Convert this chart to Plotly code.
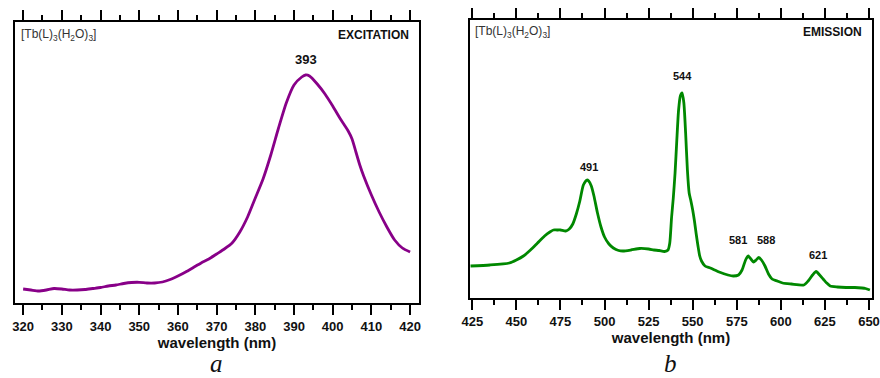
import plotly.graph_objects as go

# Excitation spectrum (panel a)
exc_wavelength = [320, 322, 324, 326, 328, 330, 332, 334, 336, 338, 340, 342, 344, 346, 348, 350,
                  352, 354, 356, 358, 360, 362, 364, 366, 368, 370, 372, 374, 376, 378, 380, 382,
                  384, 386, 388, 390, 392, 393, 394, 396, 398, 400, 402, 403, 404, 405, 406, 407,
                  408, 410, 412, 414, 416, 418, 420]
exc_intensity = [14, 13, 12, 13, 14.5, 14, 13, 13, 13.5, 14.5, 15.5, 17, 18, 19.5, 20.5, 20.7,
                 20, 20, 21, 23.5, 27, 31, 35.5, 40, 44, 49, 54, 60, 71, 86, 105, 124,
                 148, 175, 200, 218, 226, 228, 227, 219, 209, 197, 184, 178, 172, 164, 151, 138,
                 127, 108, 91, 76, 63, 55, 51]

# Emission spectrum (panel b)
em_wavelength = [424, 435, 446, 450, 454, 458, 462, 466, 469, 471, 473, 475, 478, 480, 482,
                 484, 486, 488, 490, 491, 492.5, 494, 496, 498, 500, 502.5, 505, 508, 510.5, 515,
                 520, 525, 528, 531, 534, 536, 537, 538, 539, 540, 541, 542, 543, 544, 545, 546,
                 547, 548, 549, 550, 551, 552, 553, 554, 555, 557, 560, 565, 570, 573, 576, 578, 580,
                 581.5, 583, 584.5, 586, 587.5, 589, 591, 593, 595, 598, 601, 606, 613, 615.5,
                 618, 620, 622, 624, 626, 628, 632, 637, 642, 646, 648, 650.5]
em_intensity = [32, 33, 35, 38, 42, 48, 55, 62, 66, 68, 68, 68, 67, 69, 74,
                84, 97, 113, 118, 117, 112, 102, 85, 71, 61, 54, 50, 47.5, 47, 48,
                49.5, 49, 48, 47.5, 46.5, 48, 55, 80, 100, 125, 158, 188, 202, 205, 195, 165,
                128, 105, 97, 88, 77, 64, 52, 42, 37, 32, 30, 26, 23, 22, 23, 28, 38,
                42, 39, 36, 38, 40.5, 38, 32, 24, 19, 17, 15, 14, 13, 17,
                23, 26.5, 23, 19, 15, 12, 11, 10.5, 10.5, 10, 9.5, 8]

exc_peaks = [393]
exc_peak_y = [243]
em_peaks = [491, 544, 581, 588, 621]
em_peak_y = [131, 222, 58, 58, 43]
em_peak_xshift = [0, 0, -9, 6, 0]

exc_ticks = list(range(320, 421, 10))
em_ticks = list(range(425, 651, 25))

W, H = 880, 378
fig = go.Figure()

fig.add_trace(go.Scatter(x=exc_wavelength, y=exc_intensity, mode="lines",
                         line=dict(color="#880088", width=2.8, shape="spline", smoothing=0.6),
                         xaxis="x", yaxis="y", showlegend=False, hoverinfo="skip"))
fig.add_trace(go.Scatter(x=em_wavelength, y=em_intensity, mode="lines",
                         line=dict(color="#008800", width=2.8, shape="spline", smoothing=0.6),
                         xaxis="x2", yaxis="y2", showlegend=False, hoverinfo="skip"))

tickfont = dict(family="Liberation Sans, Arial", size=13, color="#111")
titlefont = dict(family="Liberation Sans, Arial", size=15, color="#111")

def xax(domain, rng, ticks, dminor, anchor):
    return dict(domain=domain, range=rng, anchor=anchor, automargin=False,
                showline=True, linecolor="black", linewidth=2, mirror="ticks",
                ticks="outside", ticklen=10, tickwidth=2, tickcolor="black",
                tickvals=ticks, ticktext=["<b>%d</b>" % t for t in ticks],
                tickfont=tickfont, showgrid=False, zeroline=False,
                minor=dict(ticks="outside", ticklen=5, tickwidth=2, tickcolor="black",
                           dtick=dminor, tick0=ticks[0], showgrid=False),
                title=dict(text="<b>wavelength (nm)</b>", font=titlefont, standoff=2))

def yax(domain, rng, anchor):
    return dict(domain=domain, range=rng, anchor=anchor, automargin=False,
                showline=True, linecolor="black", linewidth=2, mirror=True,
                ticks="", showticklabels=False, showgrid=False, zeroline=False)

fig.update_layout(
    width=W, height=H, margin=dict(l=0, r=0, t=0, b=0, autoexpand=False),
    paper_bgcolor="white", plot_bgcolor="white",
    xaxis=xax([15 / W, 419 / W], [317.9, 422.3], exc_ticks, 5, "y"),
    yaxis=yax([1 - 303 / H, 1 - 22 / H], [0, 281], "x"),
    xaxis2=xax([470 / W, 872 / W], [423.7, 651.7], em_ticks, 12.5, "y2"),
    yaxis2=yax([1 - 298 / H, 1 - 20 / H], [0, 278], "x2"),
)

ann = []
for xv, yv in zip(exc_peaks, exc_peak_y):
    ann.append(dict(x=xv, y=yv, xref="x", yref="y", text="<b>%d</b>" % xv,
                    showarrow=False, font=dict(family="Liberation Sans, Arial", size=13, color="#111")))
for xv, yv, xs in zip(em_peaks, em_peak_y, em_peak_xshift):
    ann.append(dict(x=xv, y=yv, xref="x2", yref="y2", text="<b>%d</b>" % xv, xshift=xs,
                    showarrow=False, font=dict(family="Liberation Sans, Arial", size=11, color="#111")))

formula = "[Tb(L)<sub>3</sub>(H<sub>2</sub>O)<sub>3</sub>]"
small = dict(family="Liberation Sans, Arial", size=12, color="#333")
ann += [
    dict(x=19 / W, y=1 - 35 / H, xref="paper", yref="paper", text=formula, showarrow=False,
         xanchor="left", yanchor="middle", font=small),
    dict(x=473 / W, y=1 - 32 / H, xref="paper", yref="paper", text=formula, showarrow=False,
         xanchor="left", yanchor="middle", font=small),
    dict(x=411 / W, y=1 - 35 / H, xref="paper", yref="paper", text="<b>EXCITATION</b>", showarrow=False,
         xanchor="right", yanchor="middle", font=dict(family="Liberation Sans, Arial", size=12, color="#111")),
    dict(x=864 / W, y=1 - 32 / H, xref="paper", yref="paper", text="<b>EMISSION</b>", showarrow=False,
         xanchor="right", yanchor="middle", font=dict(family="Liberation Sans, Arial", size=12, color="#111")),
    dict(x=216 / W, y=0, xref="paper", yref="paper", text="<i>a</i>", showarrow=False, borderpad=0,
         xanchor="center", yanchor="bottom", font=dict(family="Liberation Serif, Times New Roman", size=25, color="#111")),
    dict(x=670 / W, y=0, xref="paper", yref="paper", text="<i>b</i>", showarrow=False, borderpad=0,
         xanchor="center", yanchor="bottom", font=dict(family="Liberation Serif, Times New Roman", size=25, color="#111")),
]
fig.update_layout(annotations=ann)

fig.write_html("out.html", config={"displayModeBar": False},
               post_script="document.body.style.margin='0px';document.body.style.padding='0px';")
